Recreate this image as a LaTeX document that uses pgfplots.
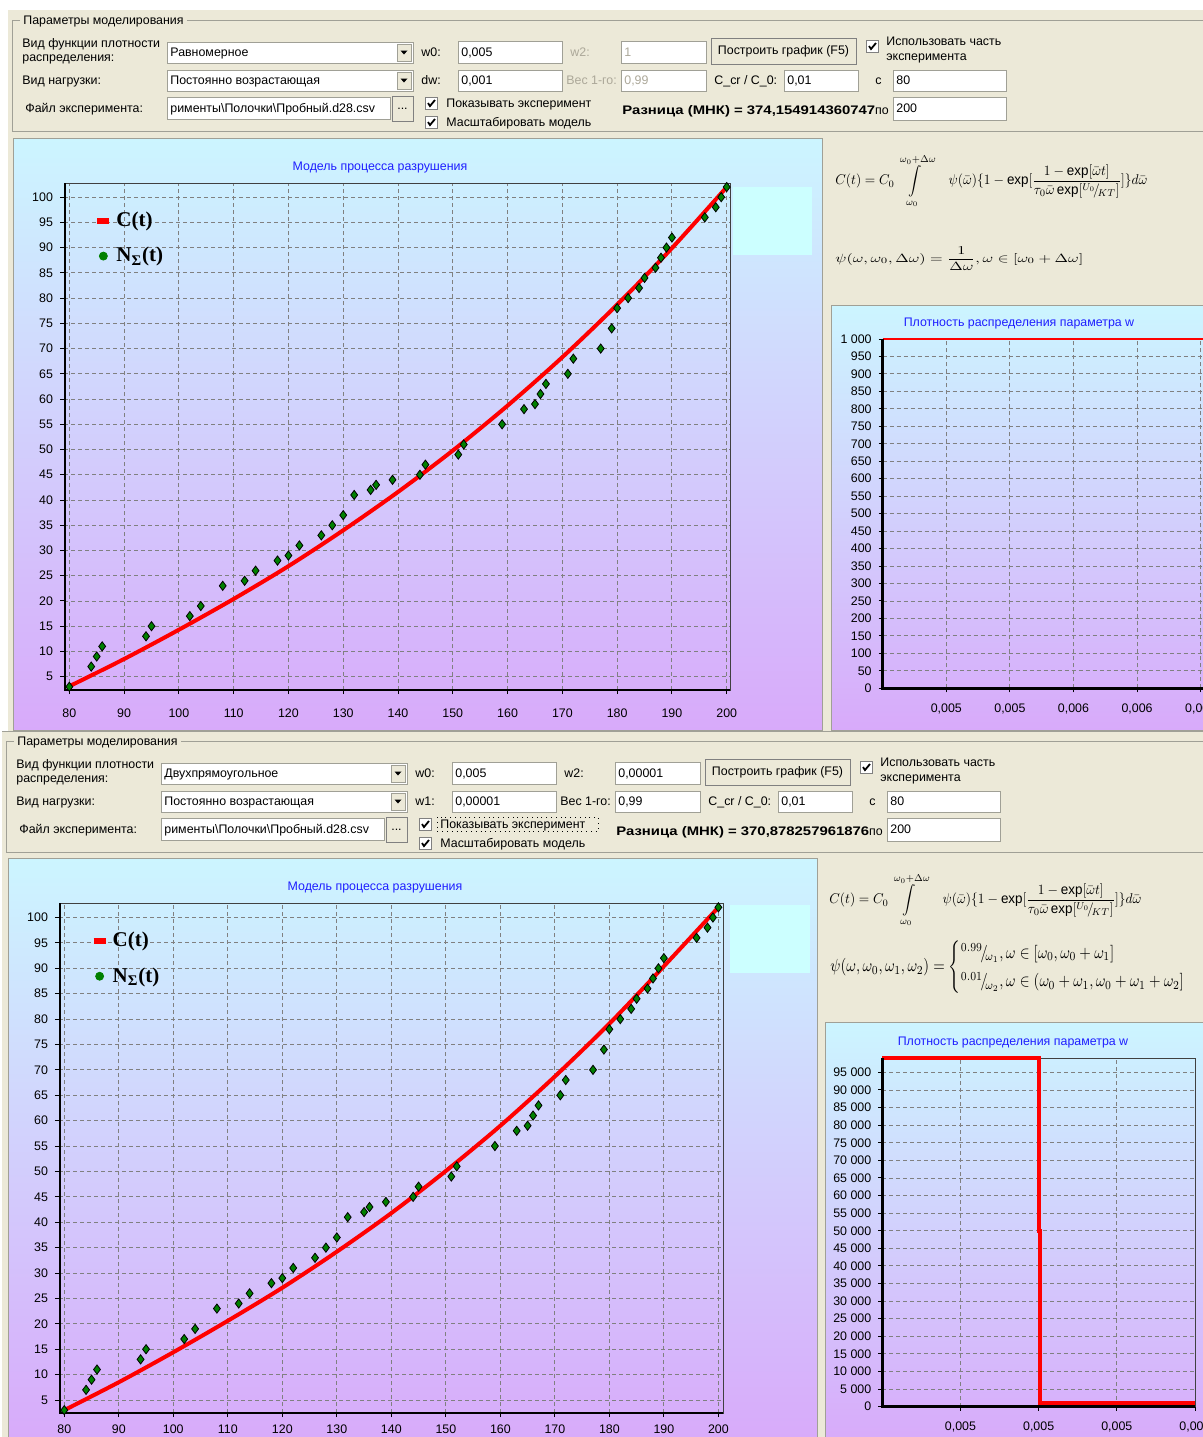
\documentclass[border=0pt]{standalone}
\usepackage{fontspec}
\setmainfont{Liberation Sans}
\newfontfamily\tnr{Liberation Serif}
\usepackage{amsmath}
\usepackage{graphicx}
\usepackage{pgfplots}
\pgfplotsset{compat=1.18}
\definecolor{beige}{RGB}{236,233,216}
\definecolor{ctop}{RGB}{204,245,255}
\definecolor{cbot}{RGB}{216,170,250}
\definecolor{ttl}{RGB}{30,30,255}
\definecolor{mkgreen}{RGB}{0,128,0}
\definecolor{graytxt}{RGB}{172,168,153}
\definecolor{frame}{RGB}{160,160,150}
\definecolor{lcyan}{RGB}{204,255,255}
\newcommand\gui{\fontsize{6.2}{6.8}\selectfont}
\newcommand\tickf{\fontsize{6.2}{6.5}\selectfont}
\tikzset{t/.style={anchor=base west, inner sep=0pt, font=\gui}}
\newcommand\tbox[5]{\draw[fill=white,draw=frame] (#1,#2) rectangle (#3,#4); \node[t] at ({#1+3},{(#2+#4)/2+4}) {#5};}
\newcommand\combo[5]{\tbox{#1}{#2}{#3}{#4}{#5}%
 \draw[fill=beige,draw=frame] ({#3-16},{#2+2}) rectangle ({#3-2},{#4-2});
 \fill ({#3-12.5},{(#2+#4)/2-2}) -- ({#3-5.5},{(#2+#4)/2-2}) -- ({#3-9},{(#2+#4)/2+2}) -- cycle;}
\newcommand\btn[5]{\draw[fill=beige,draw=gray] (#1,#2) rectangle (#3,#4); \node[inner sep=0pt,font=\gui] at ({(#1+#3)/2},{(#2+#4)/2}) {#5};}
\newcommand\chk[2]{\draw[fill=white,draw=gray] (#1,#2) rectangle ({#1+12},{#2+12});
 \draw[line width=0.9pt] ({#1+3},{#2+6}) -- ({#1+5},{#2+9}) -- ({#1+10},{#2+3});}
\newcommand\formA{\resizebox*{156pt}{27pt}{$\displaystyle C(t)=C_0\int\limits_{\omega_0}^{\omega_0+\Delta\omega}\quad\psi(\bar\omega)\{1-\exp[\frac{1-\exp[\bar\omega t]}{\tau_0\bar\omega\exp[{}^{U_0}\!/\!{}_{KT}]}]\}d\bar\omega$}}

\pgfplotstableread{
x y
80 3
84 7
85 9
86 11
94 13
95 15
102 17
104 19
108 23
112 24
114 26
118 28
120 29
122 31
126 33
128 35
130 37
132 41
135 42
136 43
139 44
144 45
145 47
151 49
152 51
159 55
163 58
165 59
166 61
167 63
171 65
172 68
177 70
179 74
180 78
182 80
184 82
185 84
187 86
188 88
189 90
190 92
196 96
198 98
199 100
200 102
}\exper

\pgfplotsset{
 mainax/.style={scale only axis, anchor=north west,
  xtick={80,90,...,200}, ytick={5,10,...,100},
  grid=major, grid style={gray, line width=0.45pt, dash pattern=on 2pt off 1.5pt},
  axis line style={draw=black!75, line width=0.5pt},
  tick pos=left, tick align=outside, major tick length=2pt,
  tick style={black, line width=0.5pt},
  tick label style={font=\tickf}, /pgf/number format/assume math mode=true,
  legend style={draw=none, fill=none, font=\tnr\bfseries\fontsize{10.5}{12}\selectfont,
   anchor=north west, row sep=5pt, inner sep=0pt},
  legend cell align=left},
 densax/.style={scale only axis, anchor=north west,
  grid=major, grid style={gray, line width=0.45pt, dash pattern=on 2pt off 1.5pt},
  axis line style={draw=black!75, line width=0.5pt},
  tick pos=left, tick align=outside, major tick length=2pt,
  tick style={black, line width=0.5pt},
  scaled x ticks=false, scaled y ticks=false,
  tick label style={font=\tickf}, /pgf/number format/assume math mode=true,
  /pgf/number format/1000 sep={\ },
  xticklabel style={yshift=-2pt}, clip=false}
}

\begin{document}
\begin{tikzpicture}[x=0.5pt,y=-0.5pt]
\useasboundingbox (0,0) rectangle (1203,1437);
\fill[white] (0,0) rectangle (1203,1437);
\fill[beige] (8,10) rectangle (1210,731);
\fill[beige] (2,731) rectangle (1210,1445);
\draw[frame] (2,731.5) -- (1210,731.5);

% ---------- top controls ----------
\begin{scope}
\draw[frame] (12,20) rectangle (1215,131);
\node[t,fill=beige,inner xsep=1.5pt] at (20,24) {Параметры моделирования};
\node[t] at (22,47) {Вид функции плотности};
\node[t] at (22,61) {распределения:};
\combo{167}{42}{413}{63}{Равномерное}
\node[t] at (421,56) {w0:};
\tbox{458}{41}{562}{63}{0,005}
\node[t,text=graytxt] at (570,56) {w2:};
\tbox{621}{41}{706}{63}{\textcolor{graytxt}{1}}
\btn{711}{38}{856}{64}{Построить график (F5)}
\chk{866}{40}
\node[t] at (886,45) {Использовать часть};
\node[t] at (886,60) {эксперимента};
\node[t] at (22,84) {Вид нагрузки:};
\combo{167}{70}{413}{91}{Постоянно возрастающая}
\node[t] at (421,84) {dw:};
\tbox{458}{70}{562}{91}{0,001}
\node[t,text=graytxt] at (566,84) {Вес 1-го:};
\tbox{621}{70}{706}{91}{\textcolor{graytxt}{0,99}}
\node[t] at (714,84) {C\_cr / C\_0:};
\tbox{784}{70}{858}{91}{0,01}
\node[t] at (875,84) {c};
\tbox{893}{70}{1006}{91}{80}
\node[t] at (25,112) {Файл эксперимента:};
\tbox{167}{97}{390}{119}{рименты\textbackslash Полочки\textbackslash Пробный.d28.csv}
\btn{392}{96}{413}{121}{...}
\chk{425}{97}
\node[t] at (446,107) {Показывать эксперимент};
\chk{425}{116}
\node[t] at (446,126) {Масштабировать модель};
\node[t] at (622,114) {\scalebox{1.2}[1]{\bfseries Разница (МНК) = 374,154914360747}по};
\tbox{893}{97}{1006}{120}{200}
\end{scope}

% ---------- bottom controls ----------
\begin{scope}[shift={(-6,721)}]
\draw[frame] (12,20) rectangle (1215,131);
\node[t,fill=beige,inner xsep=1.5pt] at (20,24) {Параметры моделирования};
\node[t] at (22,47) {Вид функции плотности};
\node[t] at (22,61) {распределения:};
\combo{167}{42}{413}{63}{Двухпрямоугольное}
\node[t] at (421,56) {w0:};
\tbox{458}{41}{562}{63}{0,005}
\node[t] at (570,56) {w2:};
\tbox{621}{41}{706}{63}{0,00001}
\btn{711}{38}{856}{64}{Построить график (F5)}
\chk{866}{40}
\node[t] at (886,45) {Использовать часть};
\node[t] at (886,60) {эксперимента};
\node[t] at (22,84) {Вид нагрузки:};
\combo{167}{70}{413}{91}{Постоянно возрастающая}
\node[t] at (421,84) {w1:};
\tbox{458}{70}{562}{91}{0,00001}
\node[t] at (566,84) {Вес 1-го:};
\tbox{621}{70}{706}{91}{0,99}
\node[t] at (714,84) {C\_cr / C\_0:};
\tbox{784}{70}{858}{91}{0,01}
\node[t] at (875,84) {c};
\tbox{893}{70}{1006}{91}{80}
\node[t] at (25,112) {Файл эксперимента:};
\tbox{167}{97}{390}{119}{рименты\textbackslash Полочки\textbackslash Пробный.d28.csv}
\btn{392}{96}{413}{121}{...}
\chk{425}{97}
\node[t] at (446,107) {Показывать эксперимент};
\draw[dotted] (443,96) rectangle (604,110);
\chk{425}{116}
\node[t] at (446,126) {Масштабировать модель};
\node[t] at (622,114) {\scalebox{1.2}[1]{\bfseries Разница (МНК) = 370,878257961876}по};
\tbox{893}{97}{1006}{120}{200}
\end{scope}

% ---------- chart panels ----------
\shade[top color=ctop, bottom color=cbot] (13,138) rectangle (822,730);
\draw[frame] (13,138) rectangle (822,730);
\fill[lcyan] (733,187) rectangle (812,255);
\node[font=\gui, text=ttl] at (380,168) {Модель процесса разрушения};
\shade[top color=ctop, bottom color=cbot] (831,305) rectangle (1210,730);
\draw[frame] (831,305) rectangle (1210,730);
\node[font=\gui, text=ttl] at (1019,324) {Плотность распределения параметра w};

\shade[top color=ctop, bottom color=cbot] (8,858) rectangle (817,1445);
\draw[frame] (8,858) rectangle (817,1445);
\fill[lcyan] (730,905) rectangle (810,973);
\node[font=\gui, text=ttl] at (375,888) {Модель процесса разрушения};
\shade[top color=ctop, bottom color=cbot] (825,1022) rectangle (1210,1445);
\draw[frame] (825,1022) rectangle (1210,1445);
\node[font=\gui, text=ttl] at (1013,1043) {Плотность распределения параметра w};

% ---------- formulas ----------
\node[anchor=north west, inner sep=0pt] at (835,154) {\formA};
\node[anchor=north west, inner sep=0pt] at (835,246) {\resizebox*{124pt}{12pt}{$\displaystyle \psi(\omega,\omega_0,\Delta\omega)=\frac{1}{\Delta\omega},\omega\in[\omega_0+\Delta\omega]$}};
\node[anchor=north west, inner sep=0pt] at (829,873) {\formA};
\node[anchor=north west, inner sep=0pt] at (830,940) {\resizebox*{185pt}{27pt}{$\displaystyle \psi(\omega,\omega_0,\omega_1,\omega_2)=\begin{cases}{}^{0.99}\!/\!{}_{\omega_1},\omega\in[\omega_0,\omega_0+\omega_1]\\[2pt] {}^{0.01}\!/\!{}_{\omega_2},\omega\in(\omega_0+\omega_1,\omega_0+\omega_1+\omega_2]\end{cases}$}};

% ---------- top main chart ----------
\begin{axis}[mainax, at={(32pt,-91.5pt)}, width=333pt, height=253.5pt,
  xmin=79.03, xmax=200.6, ymin=2.36, ymax=102.8,
  xticklabel style={yshift=-4pt},
  legend style={at={(0.045,0.952)}}]
\addplot[red, line width=2pt, smooth,
  legend image code/.code={\draw[red, line width=3pt] (0pt,0pt) -- (6pt,0pt);}]
  coordinates {(80,3.1) (90,8.5) (100,14.3) (110,20.4) (120,26.9) (130,34.0) (140,41.6) (150,49.8) (160,58.7) (170,68.3) (180,78.7) (190,89.9) (200,102.0)};
\addlegendentry{C(t)}
\addplot[only marks, mark=diamond*, mark size=2.3pt, mark options={fill=mkgreen, draw=black, line width=0.4pt},
  legend image code/.code={\fill[mkgreen] (3pt,0pt) circle (2pt);}] table[x=x,y=y] {\exper};
\addlegendentry{N\textsubscript{Σ}(t)}
\draw[black, line width=1.5pt] (rel axis cs:0,1) -- (rel axis cs:0,0) -- (rel axis cs:1,0);
\end{axis}

% ---------- bottom main chart ----------
\begin{axis}[mainax, at={(29.5pt,-451.5pt)}, width=332.2pt, height=255pt,
  xmin=79.03, xmax=200.92, ymin=2.44, ymax=102.85,
  xticklabel style={yshift=-0.5pt},
  legend style={at={(0.047,0.952)}}]
\addplot[red, line width=2pt, smooth,
  legend image code/.code={\draw[red, line width=3pt] (0pt,0pt) -- (6pt,0pt);}]
  coordinates {(80,3.0) (90,8.5) (100,14.4) (110,20.6) (120,27.1) (130,34.2) (140,41.8) (150,50.1) (160,59.0) (170,68.7) (180,79.1) (190,90.4) (200,102.0)};
\addlegendentry{C(t)}
\addplot[only marks, mark=diamond*, mark size=2.3pt, mark options={fill=mkgreen, draw=black, line width=0.4pt},
  legend image code/.code={\fill[mkgreen] (3pt,0pt) circle (2pt);}] table[x=x,y=y] {\exper};
\addlegendentry{N\textsubscript{Σ}(t)}
\draw[black, line width=1.5pt] (rel axis cs:0,1) -- (rel axis cs:0,0) -- (rel axis cs:1,0);
\end{axis}

% ---------- top density chart ----------
\begin{axis}[densax, at={(441.35pt,-169.5pt)}, width=161.65pt, height=174.65pt,
  xmin=0.005, xmax=0.0060167, ymin=0, ymax=1000,
  ytick={0,50,...,1000},
  xtick={0.0052,0.0054,0.0056,0.0058,0.006},
  xticklabels={{0,005},{0,005},{0,006},{0,006},{0,006}}]
\addplot[red, line width=1pt] coordinates {(0.005,1000) (0.0060167,1000)};
\draw[black, line width=1.5pt] (rel axis cs:0,1) -- (rel axis cs:0,0) -- (rel axis cs:1,0);
\end{axis}

% ---------- bottom density chart ----------
\begin{axis}[densax, at={(441.15pt,-529.15pt)}, width=156.35pt, height=174.2pt,
  xmin=0.005, xmax=0.00502, ymin=0, ymax=99000,
  ytick={0,5000,...,95000},
  xtick={0.005005,0.00501,0.005015,0.00502},
  xticklabels={{0,005},{0,005},{0,005},{0,005}}]
\addplot[red, line width=2pt] coordinates {(0.005,99000) (0.00501,99000) (0.00501,50000) (0.0050101,50000) (0.0050101,1000) (0.00502,1000)};
\draw[black, line width=1.5pt] (rel axis cs:0,1) -- (rel axis cs:0,0) -- (rel axis cs:1,0);
\end{axis}
\end{tikzpicture}
\end{document}
